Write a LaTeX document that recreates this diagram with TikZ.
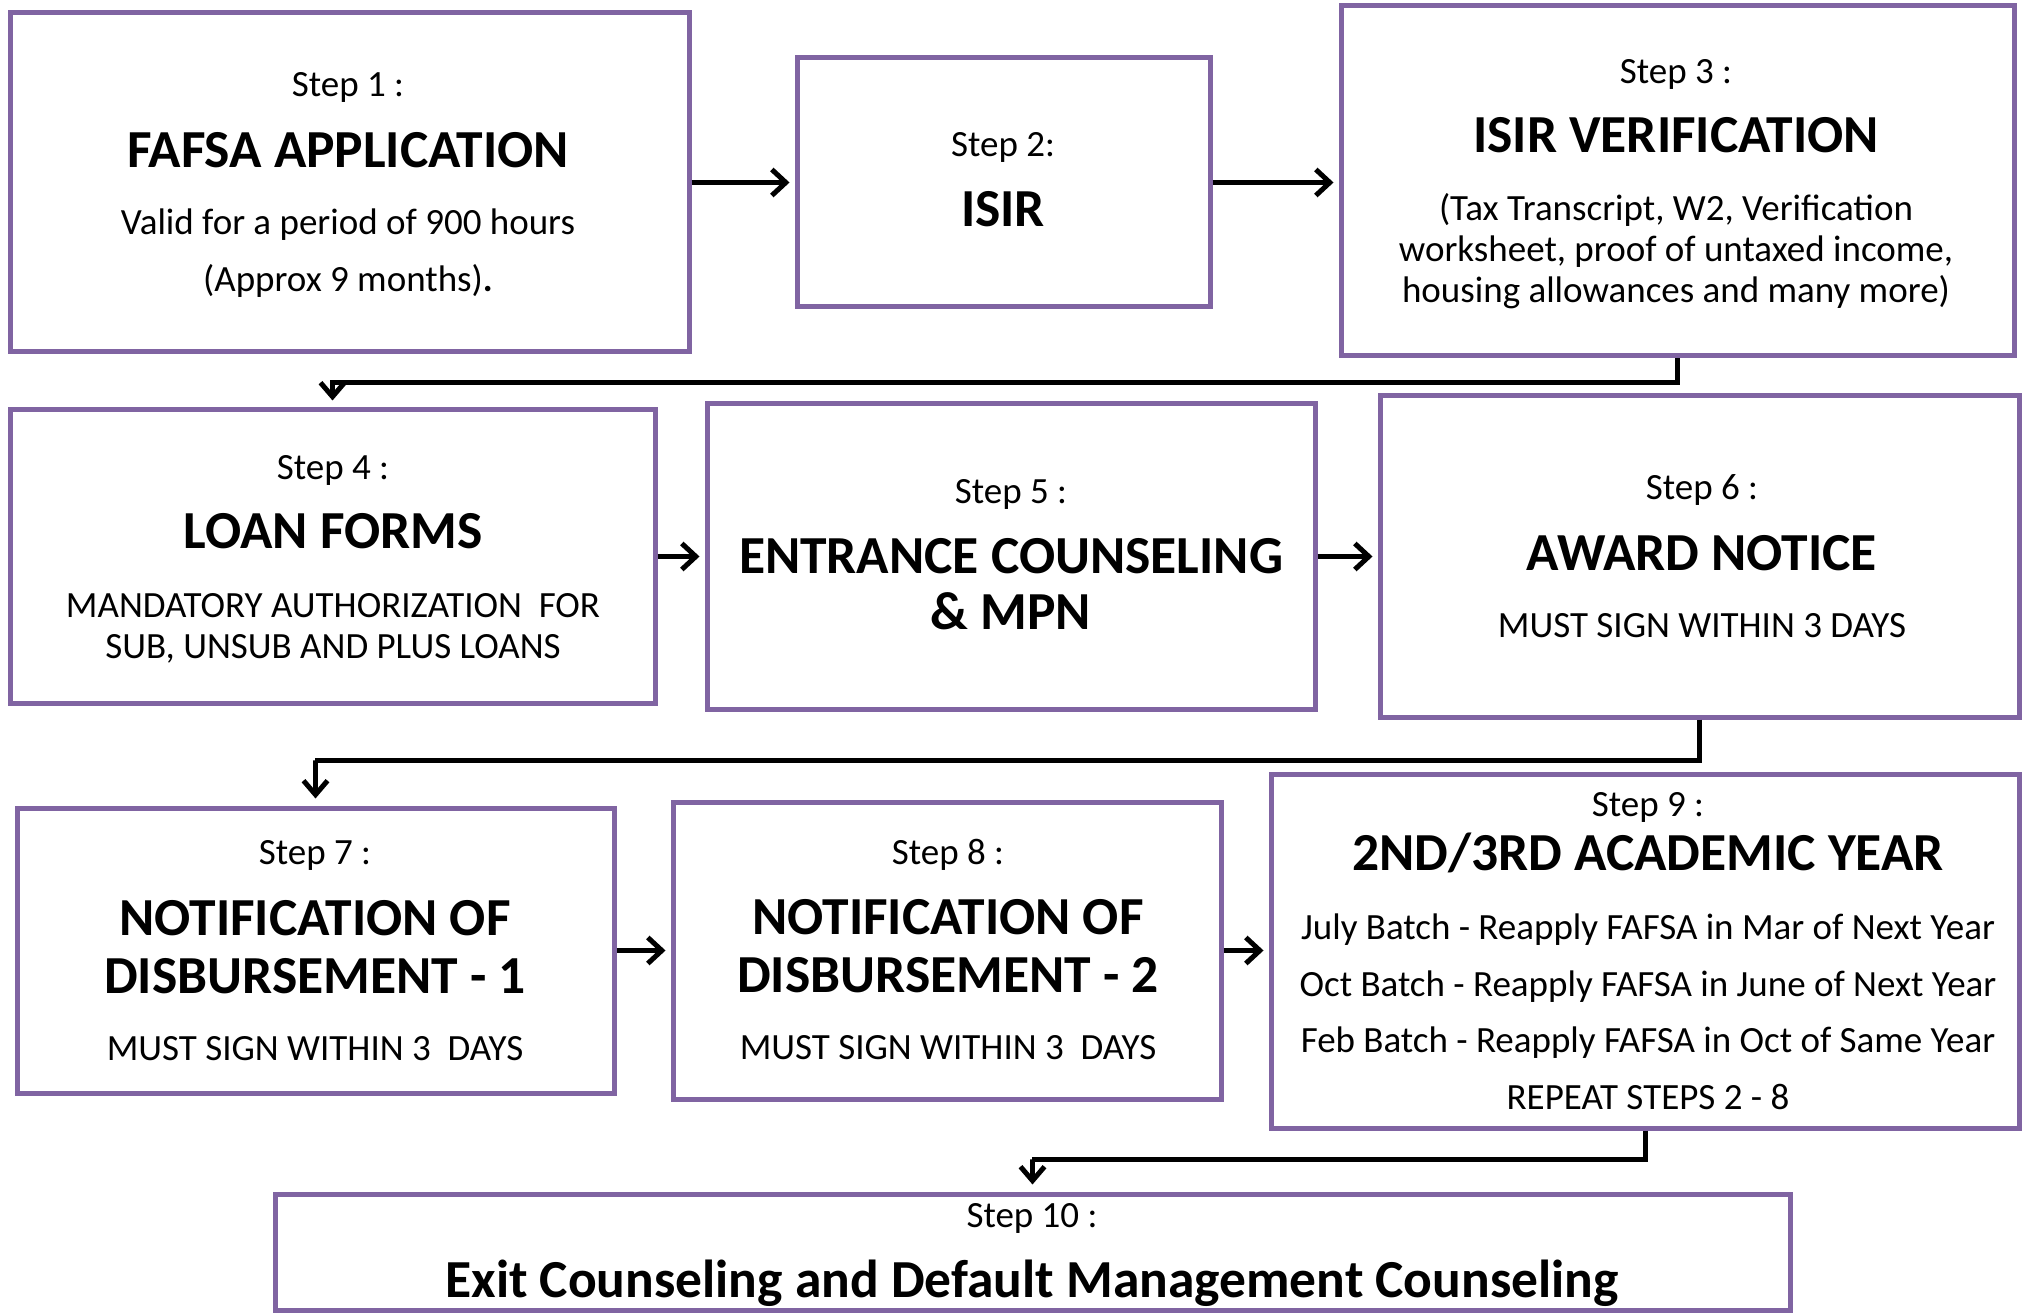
\documentclass[tikz,border=0pt]{standalone}
\usepackage{fontspec}
\setmainfont{Carlito}
\usetikzlibrary{arrows.meta}
\definecolor{boxpurple}{HTML}{8064A2}
\tikzset{
  x=1pt, y=-1pt,
  stepbox/.style={draw=boxpurple, line width=5pt, fill=white, rectangle, inner sep=0pt},
  small/.style={anchor=base, font=\fontsize{37}{44}\selectfont, inner sep=0pt, yshift=-2pt},
  big/.style={anchor=base, font=\fontsize{53.5}{62}\selectfont\bfseries, inner sep=0pt, yshift=-2pt},
  harr/.style={line width=5pt, -{Straight Barb[length=14pt,width=26pt]}, shorten >=5pt},
  varr/.style={line width=5pt, -{Straight Barb[length=14pt,width=24pt]}, shorten >=7pt},
}
\newcommand{\mkbox}[5]{\path (#2,#3) coordinate (#1sw) (#4,#5) coordinate (#1ne);
  \node[stepbox, minimum width=#4-#2, minimum height=#5-#3] (#1) at ({(#2+#4)/2},{(#3+#5)/2}) {};}
\begin{document}
\begin{tikzpicture}
\useasboundingbox (0,0) rectangle (2022,1313);
\fill[white] (0,0) rectangle (2022,1313);
% boxes
\mkbox{b1}{10}{13}{689}{352}
\mkbox{b2}{797}{58}{1210}{307}
\mkbox{b3}{1341}{6}{2014}{356}
\mkbox{b4}{10}{410}{655}{703}
\mkbox{b5}{707}{404}{1315}{709}
\mkbox{b6}{1380}{396}{2019}{717}
\mkbox{b7}{17}{808}{614}{1093}
\mkbox{b8}{673}{802}{1221}{1099}
\mkbox{b9}{1271}{774}{2019}{1128}
\mkbox{b10}{275}{1194}{1790}{1310}
% texts box 1
\node[small] (t1a) at (348,95) {Step 1 :};
\node[big] (t1b) at (348,166) {FAFSA APPLICATION};
\node[small] (t1c) at (348,233) {Valid for a period of 900 hours};
\node[small] (t1d) at (348,290) {(Approx 9 months)\textbf{.}};
% box 2
\node[small] (t2a) at (1003,155) {Step 2:};
\node[big] (t2b) at (1003,225) {ISIR};
% box 3
\node[small] (t3a) at (1676,82) {Step 3 :};
\node[big] (t3b) at (1676,151) {ISIR VERIFICATION};
\node[small] (t3c) at (1676,219) {(Tax Transcript, W2, Verification};
\node[small] (t3d) at (1676,260) {worksheet, proof of untaxed income,};
\node[small] (t3e) at (1676,301) {housing allowances and many more)};
% box 4
\node[small] (t4a) at (333,477) {Step 4 :};
\node[big] (t4b) at (333,546) {LOAN FORMS};
\node[small] (t4c) at (333,615) {MANDATORY AUTHORIZATION\ \ FOR};
\node[small] (t4d) at (333,656) {SUB, UNSUB AND PLUS LOANS};
% box 5
\node[small] (t5a) at (1011,501) {Step 5 :};
\node[big] (t5b) at (1011,571) {ENTRANCE COUNSELING};
\node[big] (t5c) at (1011,627) {\& MPN};
% box 6
\node[small] (t6a) at (1702,497) {Step 6 :};
\node[big] (t6b) at (1702,568) {AWARD NOTICE};
\node[small] (t6c) at (1702,635) {MUST SIGN WITHIN 3 DAYS};
% box 7
\node[small] (t7a) at (315,862) {Step 7 :};
\node[big] (t7b) at (315,933) {NOTIFICATION OF};
\node[big] (t7c) at (315,991) {DISBURSEMENT - 1};
\node[small] (t7d) at (315,1058) {MUST SIGN WITHIN 3\ \ DAYS};
% box 8
\node[small] (t8a) at (948,862) {Step 8 :};
\node[big] (t8b) at (948,932) {NOTIFICATION OF};
\node[big] (t8c) at (948,990) {DISBURSEMENT - 2};
\node[small] (t8d) at (948,1057) {MUST SIGN WITHIN 3\ \ DAYS};
% box 9
\node[small] (t9a) at (1648,814) {Step 9 :};
\node[big] (t9b) at (1648,868) {2ND/3RD ACADEMIC YEAR};
\node[small] (t9c) at (1648,937) {July Batch - Reapply FAFSA in Mar of Next Year};
\node[small] (t9d) at (1648,994) {Oct Batch - Reapply FAFSA in June of Next Year};
\node[small] (t9e) at (1648,1050) {Feb Batch - Reapply FAFSA in Oct of Same Year};
\node[small] (t9f) at (1648,1107) {REPEAT STEPS 2 - 8};
% box 10
\node[small] (t10a) at (1032,1225) {Step 10 :};
\node[big] (t10b) at (1032,1295) {Exit Counseling and Default Management Counseling};
% horizontal arrows
\draw[harr] (b1.east) -- (b2.west);
\draw[harr] (b2.east) -- (b2.east -| b3.west);
\draw[harr] (b4.east) -- (b5.west);
\draw[harr] (b5.east) -- (b6.west);
\draw[harr] (b7.east) -- (b8.west);
\draw[harr] (b8.east) -- (b8.east -| b9.west);
% elbow connectors
\coordinate (k34) at (333,383);
\coordinate (k67) at (315,760);
\coordinate (k910) at (1032,1159);
\draw[varr] (b3.south) |- (k34) -| (b4.north);
\draw[varr] (b6.south) |- (k67) -| (b7.north);
\draw[varr] (b9.south) |- (k910) -| (b10.north);
\end{tikzpicture}
\end{document}
